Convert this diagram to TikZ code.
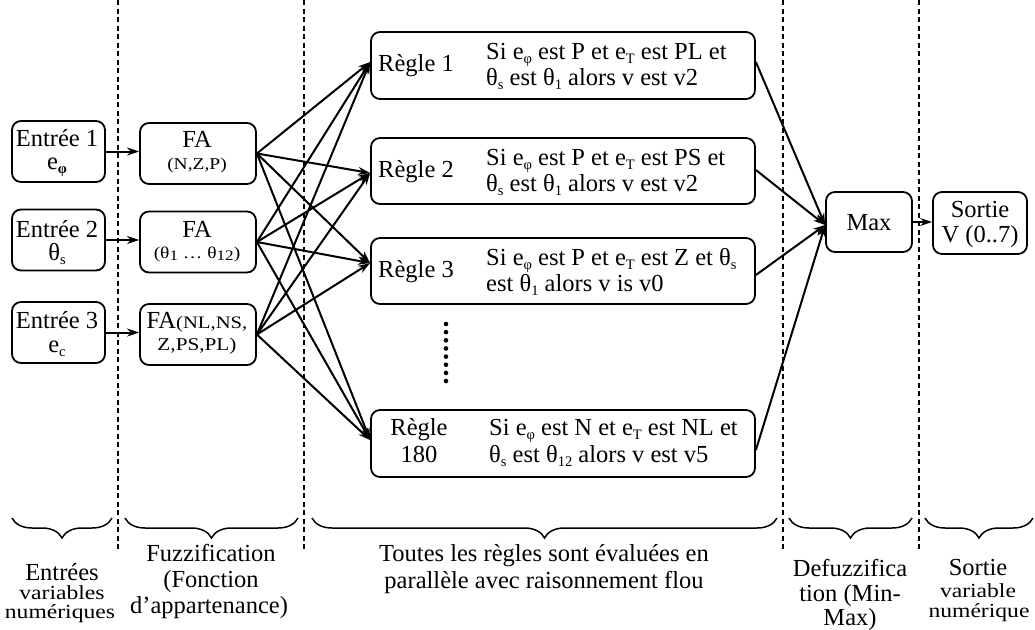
\documentclass[tikz,border=0pt]{standalone}
\usepackage{fontspec}
\setmainfont{Liberation Serif}
\newfontfamily\widefont[FakeStretch=1.18]{Liberation Serif}
\usetikzlibrary{arrows.meta,decorations.pathreplacing,calc}
\newcommand\lowtxt[1]{\raisebox{-0.18em}{\fontsize{14.5}{15}\selectfont #1}}
\newcommand\fsz[2]{\fontsize{#1}{#2}\selectfont}
\begin{document}
\begin{tikzpicture}[x=1pt,y=-1pt,
  box/.style={draw, line width=1.8pt, rounded corners=9pt, inner sep=0pt},
  conn/.style={line width=2pt, -{Stealth[length=12pt,width=8pt]}},
  sep/.style={line width=1.2pt, dash pattern=on 5pt off 3.5pt},
  brc/.style={line width=1.5pt, decorate, decoration={brace, mirror, amplitude=20pt}},
  lbl/.style={inner sep=0pt, anchor=base, font=\fsz{24.5}{26}},
  lbll/.style={inner sep=0pt, anchor=base west, font=\fsz{24.5}{26}},
  small/.style={inner sep=0pt, anchor=base, font=\widefont\fsz{16.5}{17}},
  smallb/.style={inner sep=0pt, anchor=base, font=\widefont\fsz{20}{20}},
]
\useasboundingbox (0,0) rectangle (1035,629);

% separators
\draw[sep] (118,0) -- (118,550);
\draw[sep] (304,0) -- (304,550);
\draw[sep] (783,0) -- (783,550);
\draw[sep] (919,0) -- (919,550);

% input boxes
\node[box, minimum width=93pt, minimum height=61pt] (in1) at (58.5,151.5) {};
\node[box, minimum width=93pt, minimum height=61pt] (in2) at (58.5,240) {};
\node[box, minimum width=93pt, minimum height=61pt] (in3) at (58.5,332.5) {};
\node[lbl] (in1a) at (57,146) {Entrée 1};
\node[lbl] (in1b) at (57,169) {e\lowtxt{\textbf{φ}}};
\node[lbl] (in2a) at (57,237) {Entrée 2};
\node[lbl] (in2b) at (57,260) {θ\lowtxt{s}};
\node[lbl] (in3a) at (57,328) {Entrée 3};
\node[lbl] (in3b) at (57,352) {e\lowtxt{c}};

% FA boxes
\node[box, minimum width=116pt, minimum height=61pt] (fa1) at (198,153.5) {};
\node[box, minimum width=116pt, minimum height=61pt] (fa2) at (198,242) {};
\node[box, minimum width=116pt, minimum height=61pt] (fa3) at (198,334.5) {};
\node[lbl] (fa1a) at (197,147) {FA};
\node[small] (fa1b) at (197,169) {(N,Z,P)};
\node[lbl] (fa2a) at (197,237) {FA};
\node[small] (fa2b) at (197,258) {(θ\lowtxt{1} … θ\lowtxt{12})};
\node[lbl] (fa3a) at (197,328) {FA{\widefont\fsz{17.5}{18}(NL,NS,}};
\node[smallb] (fa3b) at (197,350) {\fsz{18}{18}Z,PS,PL)};

% rule boxes
\node[box, minimum width=384pt, minimum height=67pt] (r1) at (563,65.5) {};
\node[box, minimum width=384pt, minimum height=66pt] (r2) at (563,171) {};
\node[box, minimum width=384pt, minimum height=66pt] (r3) at (563,271) {};
\node[box, minimum width=384pt, minimum height=67pt] (r4) at (563,443.5) {};

\node[lbl] (r1l) at (416,71) {Règle 1};
\node[lbl] (r2l) at (416,177) {Règle 2};
\node[lbl] (r3l) at (416,277) {Règle 3};
\node[lbl] (r4l) at (419,435) {Règle};
\node[lbl] (r4m) at (419,462) {180};

\node[lbll] (r1a) at (486,59) {Si e\lowtxt{φ} est P et e\lowtxt{T} est PL et};
\node[lbll] (r1b) at (486,85) {θ\lowtxt{s} est θ\lowtxt{1} alors v est v2};
\node[lbll] (r2a) at (486,165) {Si e\lowtxt{φ} est P et e\lowtxt{T} est PS et};
\node[lbll] (r2b) at (486,191) {θ\lowtxt{s} est θ\lowtxt{1} alors v est v2};
\node[lbll] (r3a) at (486,265) {Si e\lowtxt{φ} est P et e\lowtxt{T} est Z et θ\lowtxt{s}};
\node[lbll] (r3b) at (486,291) {est θ\lowtxt{1} alors v is v0};
\node[lbll] (r4a) at (489,435) {Si e\lowtxt{φ} est N et e\lowtxt{T} est NL et};
\node[lbll] (r4b) at (489,462) {θ\lowtxt{s} est θ\lowtxt{12} alors v est v5};

% dots
\foreach \i in {0,...,7} \fill (446,324+\i*8.15) circle (2.3pt);

% max and output
\node[box, minimum width=86pt, minimum height=60pt] (mx) at (869,222) {};
\node[lbl] (mxa) at (869,230) {Max};
\node[box, minimum width=94pt, minimum height=62pt] (out) at (980,223) {};
\node[lbl] (outa) at (980,217) {Sortie};
\node[lbl] (outb) at (980,242) {V (0..7)};

% anchor points
\coordinate (t1) at ($(r1.west)+(0,-3.5)$);
\coordinate (t2) at ($(r2.west)+(0,2)$);
\coordinate (t3) at ($(r3.west)+(0,-8)$);
\coordinate (t4) at ($(r4.west)+(0,-3.5)$);
\coordinate (s1) at ($(r1.east)+(0,-3.5)$);
\coordinate (s2) at ($(r2.east)+(0,-1)$);
\coordinate (s3) at ($(r3.east)+(0,4)$);
\coordinate (s4) at ($(r4.east)+(0,6.5)$);
\coordinate (mxin) at ($(mx.west)+(0,3)$);

% connectors
\draw[conn] (in1.east) -- (in1.east -| fa1.west);
\draw[conn] (in2.east) -- (in2.east -| fa2.west);
\draw[conn] (in3.east) -- (in3.east -| fa3.west);
\foreach \f in {fa1,fa2,fa3}{
  \foreach \t in {t1,t2,t3,t4}{
    \draw[conn] (\f.east) -- (\t);
  }
}
\foreach \s in {s1,s2,s3,s4}{
  \draw[conn] (\s) -- (mxin);
}
\draw[conn] (mx.east) -- (mx.east -| out.west);

% braces
\draw[brc] (12,518) -- (112,518);
\draw[brc] (125,518) -- (298,518);
\draw[brc] (312,518) -- (777,518);
\draw[brc] (789,518) -- (912,518);
\draw[brc] (925,518) -- (1033,518);

% bottom labels
\node[lbl] (b1a) at (62,580) {Entrées};
\node[smallb] (b1b) at (62,599) {variables};
\node[smallb] (b1c) at (60,618) {numériques};
\node[lbl] (b2a) at (211,561) {Fuzzification};
\node[lbl] (b2b) at (211,587) {(Fonction};
\node[lbl] (b2c) at (209,613) {d’appartenance)};
\node[lbl] (b3a) at (544,561) {Toutes les règles sont évaluées en};
\node[lbl] (b3b) at (544,588) {parallèle avec raisonnement flou};
\node[lbl] (b4a) at (850,576) {Defuzzifica};
\node[lbl] (b4b) at (850,601) {tion (Min-};
\node[lbl] (b4c) at (850,625) {Max)};
\node[lbl] (b5a) at (978,575) {Sortie};
\node[smallb] (b5b) at (978,597) {variable};
\node[smallb] (b5c) at (979,617) {numérique};
\end{tikzpicture}
\end{document}
